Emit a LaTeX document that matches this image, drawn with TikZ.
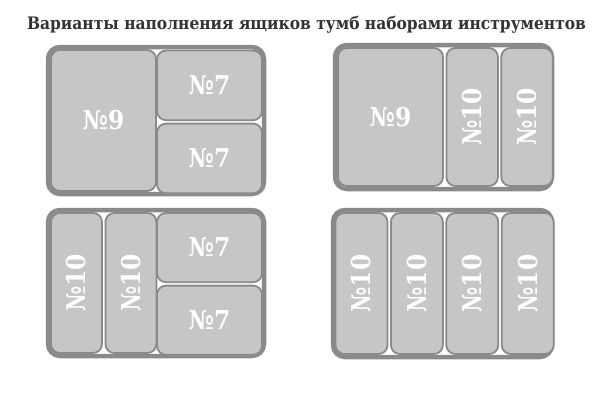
\documentclass[tikz,border=0pt]{standalone}
\usepackage{fontspec}
\usetikzlibrary{positioning}
\newfontfamily\titlefont{DejaVu Serif Condensed}
\newfontfamily\numfont{DejaVu Serif Condensed}
\definecolor{framegray}{HTML}{8A8A8A}
\definecolor{cellgray}{HTML}{C6C6C6}
\definecolor{titlegray}{HTML}{333333}

\begin{document}
\begin{tikzpicture}[
  x=1pt, y=-1pt,
  tray/.style={draw=framegray, line width=4.5pt, fill=white, rounded corners=12pt, inner sep=0pt},
  cell/.style={draw=framegray, line width=1.8pt, fill=cellgray, rounded corners=9pt, inner sep=0pt,
    text=white, font=\numfont\bfseries\fontsize{26}{26}\selectfont}
]
\useasboundingbox (0,0) rectangle (600,400);
\node[font=\titlefont\bfseries\fontsize{17.2}{17.2}\selectfont, text=titlegray] (title) at (306.5,25)
  {Варианты наполнения ящиков тумб наборами инструментов};

% top left: 9 + 7 + 7
\node[tray, minimum width=216pt, minimum height=147pt] (trayA) at (156,120.5) {};
\node[cell, minimum width=105pt, minimum height=141pt] (a9) at (103.5,120.5) {№9};
\node[cell, minimum width=105pt, minimum height=69.7pt] (a7t) at (209.5,85.35) {№7};
\node[cell, minimum width=105pt, minimum height=69.7pt, below=1.6pt of a7t] (a7b) {№7};

% top right: 9 + 10 + 10
\node[tray, minimum width=217pt, minimum height=144pt] (trayB) at (443.5,117) {};
\node[cell, minimum width=105pt, minimum height=138pt] (b9) at (390.5,117) {№9};
\node[cell, minimum width=51.5pt, minimum height=138pt, right=1.6pt of b9] (b10a) {\rotatebox{90}{№10}};
\node[cell, minimum width=51.5pt, minimum height=138pt, right=1.6pt of b10a] (b10b) {\rotatebox{90}{№10}};

% bottom left: 10 + 10 + 7 + 7
\node[tray, minimum width=216pt, minimum height=146pt] (trayC) at (156,283) {};
\node[cell, minimum width=51pt, minimum height=140pt] (c10a) at (76.5,283) {\rotatebox{90}{№10}};
\node[cell, minimum width=51pt, minimum height=140pt, right=1.6pt of c10a] (c10b) {\rotatebox{90}{№10}};
\node[cell, minimum width=105pt, minimum height=69.2pt] (c7t) at (209.5,247.6) {№7};
\node[cell, minimum width=105pt, minimum height=69.2pt, below=1.6pt of c7t] (c7b) {№7};

% bottom right: 10 x 4
\node[tray, minimum width=219pt, minimum height=147pt] (trayD) at (442.5,283.5) {};
\node[cell, minimum width=52pt, minimum height=141pt] (d10a) at (361.5,283.5) {\rotatebox{90}{№10}};
\node[cell, minimum width=52pt, minimum height=141pt, right=1.6pt of d10a] (d10b) {\rotatebox{90}{№10}};
\node[cell, minimum width=52pt, minimum height=141pt, right=1.6pt of d10b] (d10c) {\rotatebox{90}{№10}};
\node[cell, minimum width=52pt, minimum height=141pt, right=1.6pt of d10c] (d10d) {\rotatebox{90}{№10}};
\end{tikzpicture}
\end{document}
